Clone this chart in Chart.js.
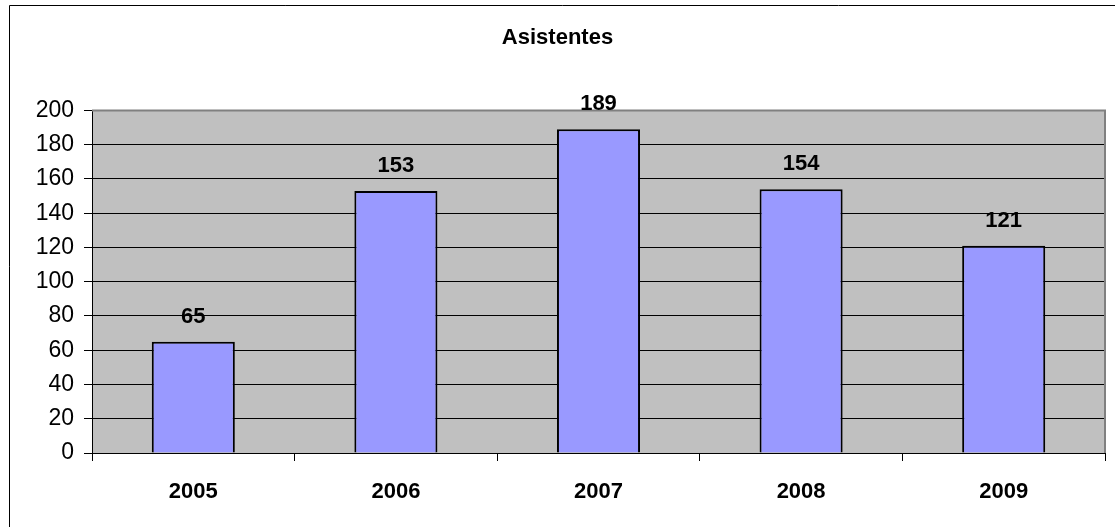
<!DOCTYPE html>
<html>
<head>
<meta charset="utf-8">
<script src="https://cdn.jsdelivr.net/npm/chart.js@4/dist/chart.umd.min.js"></script>
<style>
  html, body { margin: 0; padding: 0; background: #fff; }
  #wrap { width: 1115px; height: 527px; position: relative; }
</style>
</head>
<body>
<div id="wrap"><canvas id="popChart" width="1115" height="527"></canvas></div>
<script>
// chart values
const years = ['2005', '2006', '2007', '2008', '2009']
const asistentes = [65, 153, 189, 154, 121]
const yTicks = [0, 20, 40, 60, 80, 100, 120, 140, 160, 180, 200]
const chartTitle = 'Asistentes'

const FONT = "'Liberation Sans', Arial, sans-serif"

// grey plot background + outer frame
const frame = {
  id: 'frame',
  beforeDraw(chart) {
    const ctx = chart.ctx
    const a = chart.chartArea
    ctx.save()
    ctx.fillStyle = '#fff'
    ctx.fillRect(0, 0, chart.width, chart.height)
    ctx.strokeStyle = '#000'
    ctx.lineWidth = 1
    ctx.beginPath()
    ctx.moveTo(9.5, chart.height)
    ctx.lineTo(9.5, 5.5)
    ctx.lineTo(chart.width, 5.5)
    ctx.stroke()
    ctx.fillStyle = '#c0c0c0'
    ctx.fillRect(a.left, a.top, a.right - a.left, a.bottom - a.top)
    ctx.restore()
  },
  afterDatasetsDraw(chart) {
    const ctx = chart.ctx
    const a = chart.chartArea
    ctx.save()
    ctx.strokeStyle = '#808080'
    ctx.lineWidth = 2
    ctx.beginPath()
    ctx.moveTo(a.left, a.top)
    ctx.lineTo(a.right, a.top)
    ctx.lineTo(a.right, a.bottom)
    ctx.stroke()
    // value labels
    const meta = chart.getDatasetMeta(0)
    ctx.fillStyle = '#000'
    ctx.font = 'bold 22px ' + FONT
    ctx.textAlign = 'center'
    ctx.textBaseline = 'middle'
    meta.data.forEach((bar, i) => {
      ctx.fillText(String(asistentes[i]), bar.x, bar.y - 25)
    })
    ctx.restore()
  }
}

new Chart(document.getElementById('popChart'), {
  type: 'bar',
  data: {
    labels: years,
    datasets: [{
      data: asistentes,
      backgroundColor: '#9999ff',
      borderColor: '#000',
      borderWidth: 2,
      categoryPercentage: 0.41,
      barPercentage: 1
    }]
  },
  options: {
    responsive: false,
    animation: false,
    layout: { padding: { left: 10, right: 10, top: 0, bottom: 0 } },
    plugins: {
      legend: { display: false },
      tooltip: { enabled: false },
      title: {
        display: true,
        text: chartTitle,
        color: '#000',
        font: { family: FONT, size: 22, weight: 'bold' },
        padding: { top: 25, bottom: 59 }
      }
    },
    scales: {
      x: {
        grid: {
          offset: true,
          drawOnChartArea: false,
          drawTicks: true,
          tickLength: 8,
          color: '#000'
        },
        border: { display: true, color: '#000', width: 1 },
        ticks: {
          color: '#000',
          font: { family: FONT, size: 22, weight: 'bold' },
          padding: 18,
          maxRotation: 0
        },
        afterFit(s) { s.height = 74 }
      },
      y: {
        min: 0,
        max: 200,
        afterBuildTicks(s) { s.ticks = yTicks.map(v => ({ value: v })) },
        grid: {
          color: '#000',
          lineWidth: 1,
          tickLength: 8
        },
        border: { display: true, color: '#000', width: 1 },
        ticks: {
          color: '#000',
          font: { family: FONT, size: 23 },
          padding: 10
        },
        afterFit(s) { s.width = 82 }
      }
    }
  },
  plugins: [frame]
})
</script>
</body>
</html>
